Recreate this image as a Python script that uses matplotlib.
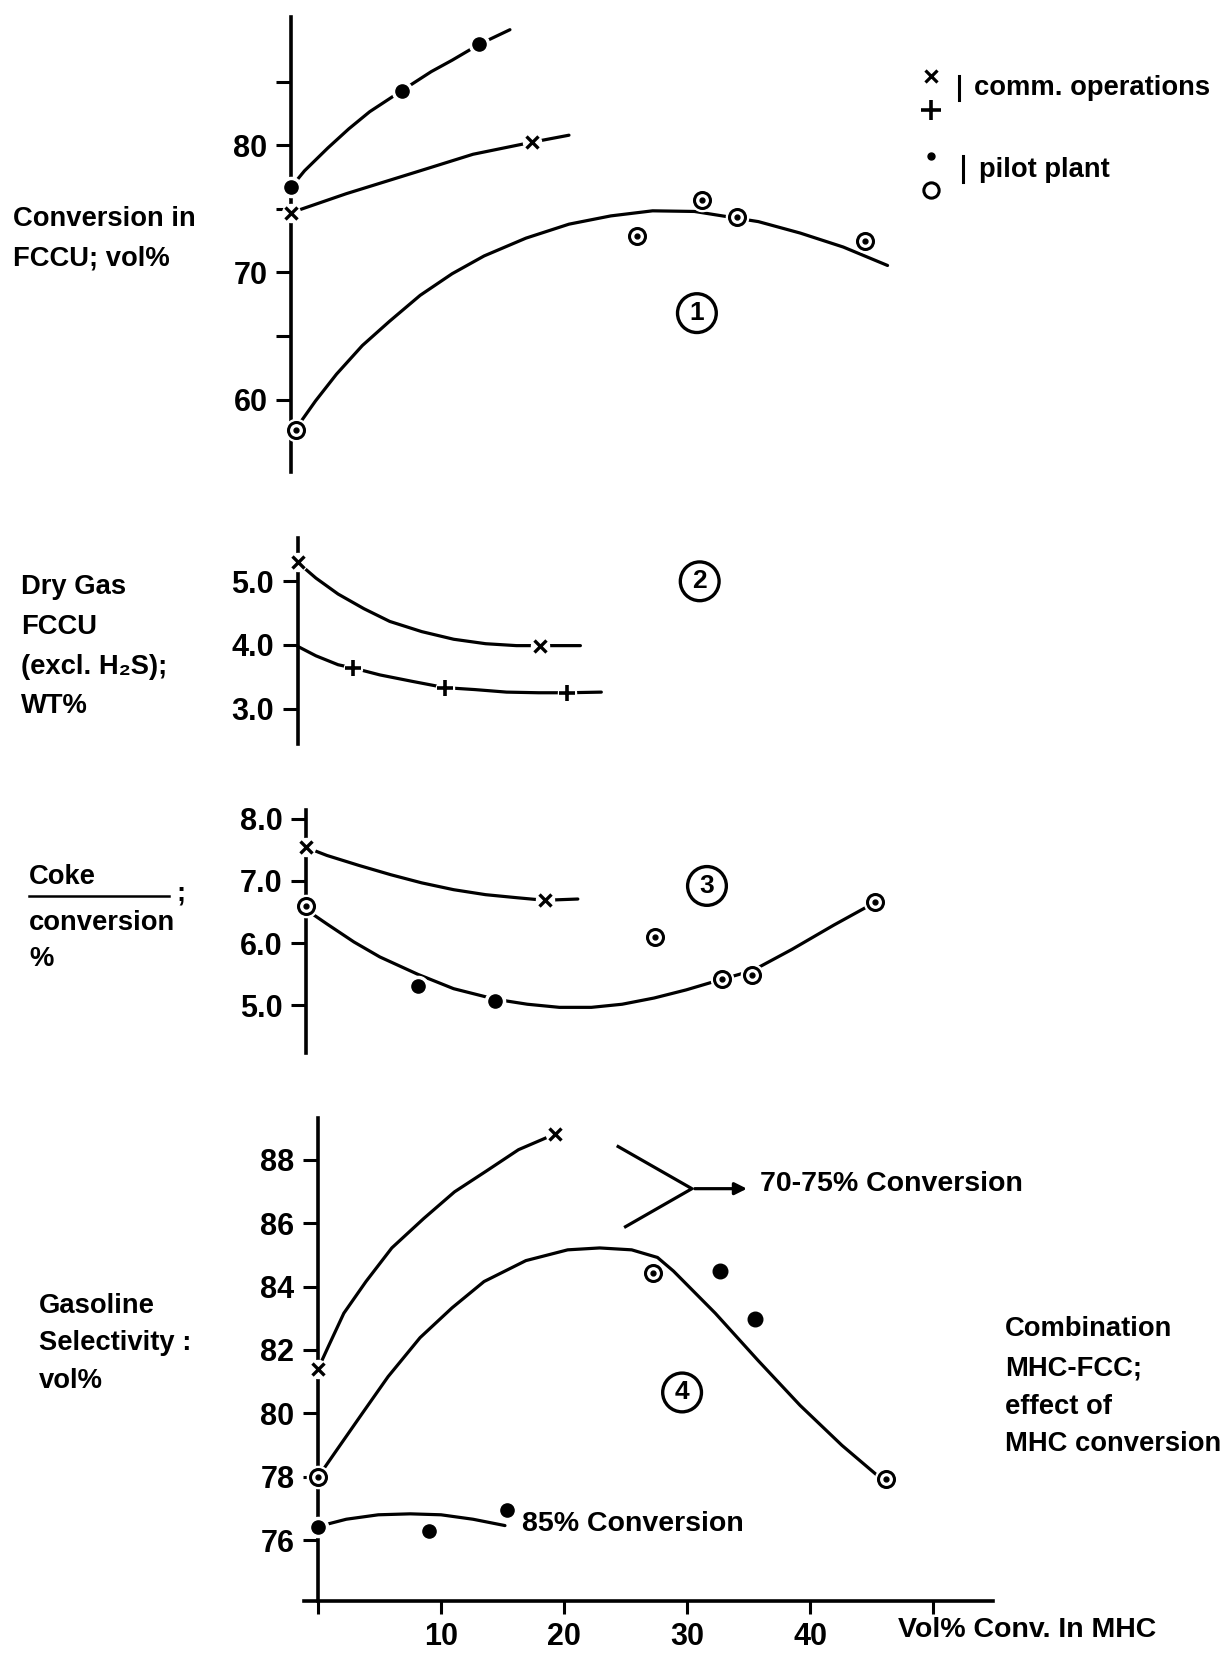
import matplotlib
matplotlib.use("Agg")
import matplotlib.pyplot as plt
from matplotlib.lines import Line2D

plt.rcParams['font.family'] = ['Liberation Sans', 'DejaVu Sans']
plt.rcParams['font.weight'] = 'bold'

# ---- panel 1: conversion in FCCU, vol% ----
p1_dot_curve_x = [0, 1.1, 3.0, 4.7, 6.4, 9.0, 11.4, 13.1, 15.3, 17.8]
p1_dot_curve_y = [76.7, 78.0, 79.8, 81.3, 82.65, 84.3, 85.8, 86.7, 87.95, 89.1]
p1_dot_x = [0, 9.0, 15.3]
p1_dot_y = [76.7, 84.3, 87.95]

p1_cross_curve_x = [0, 4.5, 10.5, 14.8, 19.6, 22.6]
p1_cross_curve_y = [74.7, 76.2, 78.0, 79.3, 80.25, 80.8]
p1_cross_x = [0, 19.6]
p1_cross_y = [74.7, 80.25]

p1_ring_curve_x = [0.5, 2.0, 3.7, 5.8, 8.0, 10.5, 13.1, 15.7, 19.1, 22.6, 26.0, 29.4, 32.8, 38.0, 41.4, 44.9, 48.5]
p1_ring_curve_y = [57.85, 59.9, 62.0, 64.25, 66.15, 68.2, 69.9, 71.3, 72.7, 73.8, 74.45, 74.85, 74.8, 74.0, 73.1, 72.0, 70.55]
p1_ring_x = [0.4, 28.1, 33.4, 36.3, 46.7]
p1_ring_y = [57.6, 72.9, 75.7, 74.4, 72.5]

# ---- panel 2: dry gas FCCU, wt% ----
p2_cross_curve_x = [0, 1.5, 3.3, 5.4, 7.5, 10.1, 12.7, 15.3, 17.8, 19.7, 23.0]
p2_cross_curve_y = [5.30, 5.05, 4.80, 4.57, 4.37, 4.21, 4.09, 4.02, 3.99, 3.99, 3.99]
p2_cross_x = [0, 19.7]
p2_cross_y = [5.30, 3.99]

p2_plus_curve_x = [0, 1.5, 3.3, 4.5, 6.7, 9.3, 12.0, 14.4, 17.0, 19.6, 21.95, 24.7]
p2_plus_curve_y = [3.98, 3.83, 3.69, 3.64, 3.53, 3.43, 3.33, 3.30, 3.26, 3.25, 3.25, 3.26]
p2_plus_x = [4.5, 12.0, 21.95]
p2_plus_y = [3.64, 3.33, 3.25]

# ---- panel 3: coke / conversion ----
p3_cross_curve_x = [0, 1.7, 4.3, 6.9, 9.4, 12.0, 14.6, 17.2, 19.4, 22.1]
p3_cross_curve_y = [7.54, 7.41, 7.25, 7.10, 6.97, 6.86, 6.78, 6.73, 6.69, 6.71]
p3_cross_x = [0, 19.4]
p3_cross_y = [7.54, 6.69]

p3_pilot_curve_x = [0, 1.7, 3.9, 6.0, 9.1, 12.0, 15.4, 18.0, 20.6, 23.2, 25.7, 28.3, 30.9, 33.8, 36.3, 39.5, 42.9, 46.3]
p3_pilot_curve_y = [6.54, 6.31, 6.02, 5.78, 5.50, 5.27, 5.10, 5.02, 4.97, 4.97, 5.02, 5.12, 5.25, 5.42, 5.56, 5.90, 6.29, 6.66]
p3_dot_x = [9.1, 15.4]
p3_dot_y = [5.31, 5.08]
p3_ring_x = [0, 28.4, 33.8, 36.3, 46.3]
p3_ring_y = [6.6, 6.10, 5.42, 5.49, 6.66]

# ---- panel 4: gasoline selectivity, vol% ----
p4_cross_curve_x = [0, 0.9, 2.1, 3.9, 6.0, 8.6, 11.1, 13.7, 16.3, 19.3]
p4_cross_curve_y = [81.4, 82.16, 83.16, 84.16, 85.22, 86.15, 86.99, 87.65, 88.32, 88.82]
p4_cross_x = [0, 19.3]
p4_cross_y = [81.4, 88.82]

p4_ring_curve_x = [0, 1.5, 3.6, 5.7, 8.3, 10.9, 13.5, 16.9, 20.3, 22.9, 25.5, 27.6, 28.9, 32.3, 35.8, 39.2, 42.6, 45.6]
p4_ring_curve_y = [77.99, 78.83, 80.0, 81.16, 82.39, 83.33, 84.16, 84.82, 85.16, 85.22, 85.16, 84.92, 84.49, 83.16, 81.66, 80.25, 78.99, 78.0]
p4_ring_x = [0, 27.2, 46.2]
p4_ring_y = [77.99, 84.42, 77.93]
p4_dot_hi_x = [32.7, 35.5]
p4_dot_hi_y = [84.49, 82.99]

p4_85_curve_x = [0, 2.3, 4.9, 7.5, 10.0, 12.6, 15.2]
p4_85_curve_y = [76.43, 76.66, 76.8, 76.83, 76.8, 76.66, 76.46]
p4_85_x = [0, 9.0, 15.4]
p4_85_y = [76.43, 76.29, 76.96]

W, H = 1230, 1654
PX = 12.3  # pixels per x unit
fig = plt.figure(figsize=(12.3, 16.54), dpi=100)


def make_ax(x0, top, bottom, ylim, ticks, labels):
    left = x0 - 1.1 * PX
    ax = fig.add_axes([left / W, 1 - bottom / H, 56 * PX / W, (bottom - top) / H])
    ax.set_xlim(-1.1, 54.9)
    ax.set_ylim(ylim)
    for s in ['top', 'right', 'bottom']:
        ax.spines[s].set_visible(False)
    ax.spines['left'].set_position(('data', 0))
    ax.spines['left'].set_linewidth(2.6)
    ax.set_yticks(ticks)
    ax.set_yticklabels(labels)
    ax.tick_params(axis='y', length=11, width=2.2, pad=6, labelsize=22)
    ax.set_xticks([])
    ax.patch.set_visible(False)
    return ax


def curve(ax, x, y):
    ax.plot(x, y, '-', color='black', lw=2.3, solid_capstyle='round',
            solid_joinstyle='round', zorder=2)


def halo(ax, x, y, ms):
    ax.plot(x, y, 'o', ms=ms, mfc='white', mec='white', zorder=3)


def dots(ax, x, y, ms=9.5):
    halo(ax, x, y, ms + 5)
    ax.plot(x, y, 'o', ms=ms, mfc='black', mec='black', zorder=4)


def rings(ax, x, y):
    halo(ax, x, y, 16)
    ax.plot(x, y, 'o', ms=11.5, mfc='white', mec='black', mew=2.2, zorder=4)
    ax.plot(x, y, 'o', ms=3.5, color='black', zorder=5)


def crosses(ax, x, y):
    halo(ax, x, y, 13)
    ax.plot(x, y, 'x', ms=8.5, mew=2.4, color='black', zorder=4)


def pluses(ax, x, y):
    halo(ax, x, y, 13)
    ax.plot(x, y, '+', ms=12, mew=2.6, color='black', zorder=4)


def circled(ax, x, y, s):
    ax.text(x, y, s, ha='center', va='center', fontsize=19, zorder=6,
            bbox=dict(boxstyle='circle,pad=0.28', fc='white', ec='black', lw=2.4))


# panel 1
ax1 = make_ax(291, 17, 472, (54.3, 90.1), [60, 65, 70, 75, 80, 85],
              ['60', '', '70', '', '80', ''])
curve(ax1, p1_dot_curve_x, p1_dot_curve_y)
curve(ax1, p1_cross_curve_x, p1_cross_curve_y)
curve(ax1, p1_ring_curve_x, p1_ring_curve_y)
dots(ax1, p1_dot_x, p1_dot_y)
crosses(ax1, p1_cross_x, p1_cross_y)
rings(ax1, p1_ring_x, p1_ring_y)
circled(ax1, 33.0, 66.8, '1')

# panel 2
ax2 = make_ax(297.5, 538, 743.7, (2.45, 5.68), [3, 4, 5], ['3.0', '4.0', '5.0'])
curve(ax2, p2_cross_curve_x, p2_cross_curve_y)
curve(ax2, p2_plus_curve_x, p2_plus_curve_y)
crosses(ax2, p2_cross_x, p2_cross_y)
pluses(ax2, p2_plus_x, p2_plus_y)
circled(ax2, 32.7, 5.0, '2')

# panel 3
ax3 = make_ax(306, 810, 1052.8, (4.24, 8.14), [5, 6, 7, 8], ['5.0', '6.0', '7.0', '8.0'])
curve(ax3, p3_cross_curve_x, p3_cross_curve_y)
curve(ax3, p3_pilot_curve_x, p3_pilot_curve_y)
crosses(ax3, p3_cross_x, p3_cross_y)
dots(ax3, p3_dot_x, p3_dot_y)
rings(ax3, p3_ring_x, p3_ring_y)
circled(ax3, 32.6, 6.92, '3')

# panel 4
ax4 = make_ax(318, 1118, 1601, (74.08, 89.32), list(range(76, 90, 2)),
              [str(v) for v in range(76, 90, 2)])
ax4.spines['bottom'].set_visible(True)
ax4.spines['bottom'].set_linewidth(2.6)
ax4.set_xticks([0, 10, 20, 30, 40, 50])
ax4.set_xticklabels(['', '10', '20', '30', '40', ''])
ax4.tick_params(axis='x', length=9, width=2.2, pad=6, labelsize=22)
curve(ax4, p4_cross_curve_x, p4_cross_curve_y)
curve(ax4, p4_ring_curve_x, p4_ring_curve_y)
curve(ax4, p4_85_curve_x, p4_85_curve_y)
crosses(ax4, p4_cross_x, p4_cross_y)
rings(ax4, p4_ring_x, p4_ring_y)
dots(ax4, p4_dot_hi_x, p4_dot_hi_y, ms=10.5)
dots(ax4, p4_85_x, p4_85_y)
circled(ax4, 29.6, 80.66, '4')
ax4.text(16.6, 76.5, '85% Conversion', ha='left', va='center', fontsize=20.5)

# bracket pointing to the 70-75% label
ax4.plot([24.4, 30.4, 25.0], [88.42, 87.09, 85.89], color='black', lw=2.3)
ax4.annotate('', xy=(35.1, 87.09), xytext=(30.4, 87.09),
             arrowprops=dict(arrowstyle='-|>', color='black', lw=2.3, mutation_scale=18))
ax4.text(35.9, 87.24, '70-75% Conversion', ha='left', va='center', fontsize=20.5)


# texts in figure pixels
def ftext(x, y, s, **kw):
    fig.text(x / W, 1 - y / H, s, ha='left', va='center', fontsize=kw.pop('fontsize', 19.7), **kw)


ftext(13, 219, 'Conversion in')
ftext(13, 259, 'FCCU; vol%')

ftext(21, 587, 'Dry Gas')
ftext(21, 627, 'FCCU')
ftext(21, 667, '(excl. H\u2082S);')
ftext(21, 706, 'WT%')

ftext(29, 877, 'Coke')
fig.add_artist(Line2D([29 / W, 169 / W], [1 - 895.5 / H] * 2, color='black', lw=1.8))
ftext(176, 894, ';')
ftext(29, 923, 'conversion')
ftext(29, 959, '%')

ftext(39, 1306, 'Gasoline')
ftext(39, 1343, 'Selectivity :')
ftext(39, 1381, 'vol%')

ftext(1005, 1329, 'Combination')
ftext(1005, 1368, 'MHC-FCC;')
ftext(1005, 1407, 'effect of')
ftext(1005, 1444, 'MHC conversion')

ftext(898, 1630, 'Vol% Conv. In MHC', fontsize=20.5)

# legend
fig.add_artist(Line2D([931 / W], [1 - 76 / H], marker='x', ms=8, mew=2.3, color='black'))
fig.add_artist(Line2D([931 / W], [1 - 110 / H], marker='+', ms=14, mew=2.6, color='black'))
fig.add_artist(Line2D([931 / W], [1 - 156 / H], marker='o', ms=5, color='black'))
fig.add_artist(Line2D([931 / W], [1 - 190 / H], marker='o', ms=11, mfc='white', mec='black', mew=2.2))
fig.add_artist(Line2D([959 / W] * 2, [1 - 76 / H, 1 - 100 / H], color='black', lw=2.2))
fig.add_artist(Line2D([963 / W] * 2, [1 - 156 / H, 1 - 182 / H], color='black', lw=2.2))
ftext(974, 88, 'comm. operations')
ftext(979, 170, 'pilot plant')

fig.savefig('out.png', dpi=100)
